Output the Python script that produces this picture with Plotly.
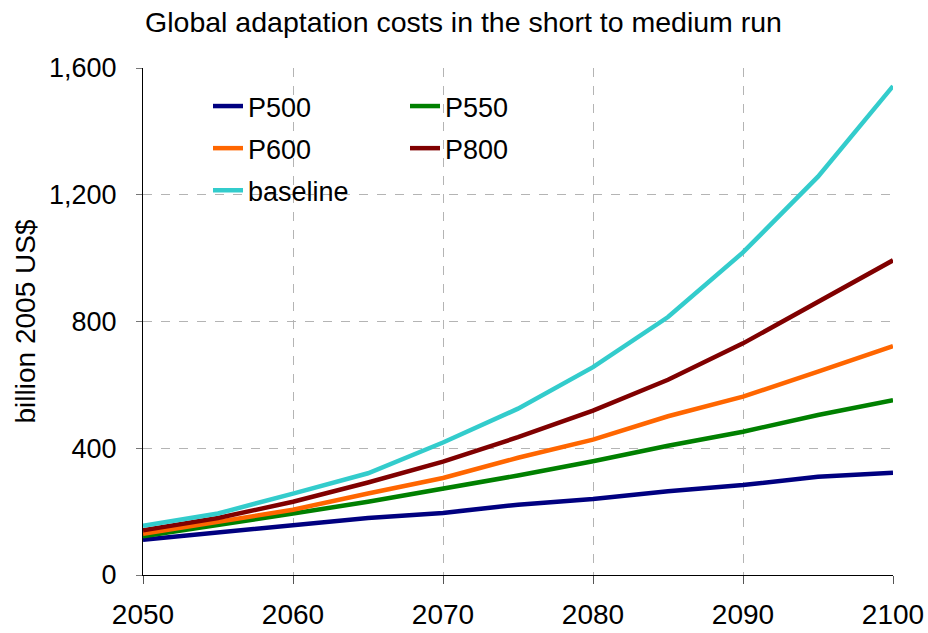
import plotly.graph_objects as go

years = [2050, 2055, 2060, 2065, 2070, 2075, 2080, 2085, 2090, 2095, 2100]
p500 = [111, 135, 157, 180, 196, 222, 240, 264, 284, 310, 323]
p550 = [122, 157, 194, 231, 272, 314, 359, 408, 452, 505, 552]
p600 = [130, 169, 206, 257, 306, 370, 427, 501, 563, 642, 722]
p800 = [141, 180, 231, 292, 358, 435, 519, 616, 731, 863, 993]
baseline = [155, 194, 257, 321, 418, 525, 656, 814, 1018, 1257, 1543]

series = [
    ("P500", p500, "#000080", "legend"),
    ("P550", p550, "#008000", "legend2"),
    ("P600", p600, "#FF6600", "legend"),
    ("P800", p800, "#800000", "legend2"),
    ("baseline", baseline, "#33CCCC", "legend"),
]

fig = go.Figure()
for name, vals, color, lg in series:
    fig.add_trace(go.Scatter(
        x=years, y=vals, mode="lines", name=name,
        line=dict(color=color, width=4.5),
        legend=lg, legendgroup=name,
    ))

font = "Liberation Sans, Arial, sans-serif"
legend_common = dict(
    bgcolor="rgba(0,0,0,0)", font=dict(size=27, color="black", family=font),
    traceorder="grouped", tracegroupgap=4, yanchor="top", xanchor="left",
    itemwidth=30,
)

W, H = 928, 633
L, R, T, B = 143, 35, 68, 58
fig.update_layout(
    width=W, height=H,
    margin=dict(l=L, r=R, t=T, b=B, autoexpand=False),
    plot_bgcolor="white", paper_bgcolor="white",
    font=dict(family=font, color="black"),
    title=dict(text="Global adaptation costs in the short to medium run",
               x=463.5 / W, xref="container", xanchor="center",
               y=1 - 22 / H, yref="container", yanchor="middle",
               font=dict(size=28.5, color="black", family=font)),
    legend=dict(x=(208 - L) / (W - L - R), y=1 - (82 - T) / (H - T - B), **legend_common),
    legend2=dict(x=(405 - L) / (W - L - R), y=1 - (82 - T) / (H - T - B), **legend_common),
    xaxis=dict(
        range=[2050, 2100], tickvals=[2050, 2060, 2070, 2080, 2090, 2100],
        showgrid=True, gridcolor="#B4B4B4", griddash="dash", gridwidth=1,
        showline=True, linecolor="black", linewidth=1,
        ticks="outside", ticklen=8, tickcolor="#555555",
        tickfont=dict(size=28, family=font), zeroline=False,
        ticklabelstandoff=6, automargin=False,
    ),
    yaxis=dict(
        range=[0, 1600], tickvals=[0, 400, 800, 1200, 1600],
        ticktext=["0", "400", "800", "1,200", "1,600"],
        showgrid=True, gridcolor="#B4B4B4", griddash="dash", gridwidth=1,
        showline=True, linecolor="black", linewidth=1,
        ticks="outside", ticklen=6, tickcolor="#777777",
        tickfont=dict(size=27, family=font), zeroline=False,
        ticklabelstandoff=14, automargin=False,
        title=dict(text="billion 2005 US$", font=dict(size=28, family=font), standoff=5),
    ),
    showlegend=True,
)

fig.write_html(
    "out.html",
    config={"displayModeBar": False},
    post_script="document.body.style.margin='0';document.body.style.overflow='hidden';",
)
